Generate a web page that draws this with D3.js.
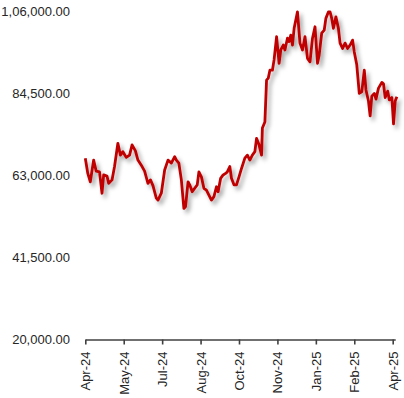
<!DOCTYPE html>
<html>
<head>
<meta charset="utf-8">
<script src="https://cdn.jsdelivr.net/npm/d3@7"></script>
<style>
  body { margin: 0; background: #fff; }
  svg { display: block; }
</style>
</head>
<body>
<div id="chart"></div>
<script>
// price series
const dates = [
  "2024-04-01","2024-04-04","2024-04-07","2024-04-11","2024-04-14","2024-04-18","2024-04-21","2024-04-23",
  "2024-04-27","2024-04-29","2024-05-03","2024-05-06","2024-05-10","2024-05-13","2024-05-16","2024-05-20",
  "2024-05-24","2024-05-27","2024-05-31","2024-06-03","2024-06-08","2024-06-11","2024-06-15","2024-06-18",
  "2024-06-21","2024-06-25","2024-06-27","2024-07-01","2024-07-05","2024-07-09","2024-07-13","2024-07-17",
  "2024-07-19","2024-07-22","2024-07-25","2024-07-28","2024-07-30","2024-08-02","2024-08-04","2024-08-07",
  "2024-08-10","2024-08-13","2024-08-15","2024-08-18","2024-08-21","2024-08-24","2024-08-27","2024-08-30",
  "2024-09-02","2024-09-05","2024-09-07","2024-09-10","2024-09-13","2024-09-16","2024-09-18","2024-09-21",
  "2024-09-23","2024-09-26","2024-09-29","2024-10-02","2024-10-05","2024-10-09","2024-10-12","2024-10-15",
  "2024-10-18","2024-10-21","2024-10-23","2024-10-26","2024-10-29","2024-10-30","2024-11-02","2024-11-04",
  "2024-11-06","2024-11-08","2024-11-11","2024-11-13","2024-11-16","2024-11-19","2024-11-21","2024-11-24",
  "2024-11-26","2024-11-29","2024-12-01","2024-12-03","2024-12-05","2024-12-07","2024-12-11","2024-12-14",
  "2024-12-17","2024-12-20","2024-12-23","2024-12-26","2024-12-29","2025-01-01","2025-01-04","2025-01-06",
  "2025-01-09","2025-01-12","2025-01-14","2025-01-17","2025-01-19","2025-01-21","2025-01-23","2025-01-26",
  "2025-01-29","2025-01-31","2025-02-03","2025-02-06","2025-02-09","2025-02-12","2025-02-15","2025-02-17",
  "2025-02-20","2025-02-23","2025-02-26","2025-03-01","2025-03-03","2025-03-06","2025-03-08","2025-03-10",
  "2025-03-13","2025-03-15","2025-03-18","2025-03-22","2025-03-24","2025-03-26","2025-03-29","2025-03-31",
  "2025-04-03","2025-04-05","2025-04-07","2025-04-09"
];
const prices = [
  67600,63600,61400,67100,64200,64000,58400,63200,
  62900,61000,61900,65400,71500,68400,69300,67800,
  68400,71100,69500,67100,65400,64200,61000,61900,
  60400,57100,56600,58400,64500,67100,66300,68000,
  67100,66300,61900,54400,54900,61400,60600,58800,
  59700,60600,64000,62700,59700,59200,57900,56600,
  57500,60100,58800,62300,63200,63600,64000,65400,
  62300,60600,60600,62700,64900,67600,68400,67100,
  68400,69300,72800,71100,68400,75500,77100,88100,
  88600,90700,90700,93400,99500,92500,96000,97300,
  96000,99100,98200,99900,97300,101700,106000,97800,
  96000,99500,93800,92900,99100,102100,92500,94700,
  100400,101200,104300,106000,106000,104300,101700,104700,
  101700,97800,96400,97800,96400,97300,98600,95500,
  92100,84600,85000,90700,85500,82600,78700,83900,
  84600,83100,86000,87500,87100,83500,85200,82900,
  83500,76600,82600,83700
];
const yTicks = [20000, 41500, 63000, 84500, 106000];
const xTicks = ["2024-04-01","2024-05-17","2024-07-02","2024-08-17","2024-10-02",
                "2024-11-17","2025-01-02","2025-02-17","2025-04-04"];

const W = 404, H = 398;
const parse = d3.utcParse("%Y-%m-%d");
const data = dates.map((d, i) => ({ date: parse(d), value: prices[i] }));

// indian digit grouping, two decimals
const fmtIN = v => {
  const s = v.toFixed(2).split(".");
  let int = s[0];
  let last3 = int.slice(-3), rest = int.slice(0, -3);
  if (rest) last3 = "," + last3;
  rest = rest.replace(/\B(?=(\d{2})+(?!\d))/g, ",");
  return rest + last3 + "." + s[1];
};

const x = d3.scaleUtc()
  .domain([parse("2024-04-01"), parse("2025-04-07")])
  .range([85.3, 395.2]);
const y = d3.scaleLinear()
  .domain([20000, 106000])
  .range([339.5, 11.9]);

const svg = d3.select("#chart").append("svg")
  .attr("width", W).attr("height", H);

const defs = svg.append("defs");
const f = defs.append("filter").attr("id", "shadow")
  .attr("x", "-10%").attr("y", "-10%").attr("width", "130%").attr("height", "130%");
f.append("feDropShadow")
  .attr("dx", 3).attr("dy", 3.5).attr("stdDeviation", 2)
  .attr("flood-color", "#000").attr("flood-opacity", 0.35);

// y labels (no axis line in the original)
svg.append("g").selectAll("text")
  .data(yTicks).enter().append("text")
  .attr("x", 70)
  .attr("y", d => y(d))
  .attr("dy", "0.35em")
  .attr("text-anchor", "end")
  .attr("font-family", "'Liberation Sans', Arial, sans-serif")
  .attr("font-size", 13)
  .attr("fill", "#262626")
  .text(fmtIN);

// x axis
const xAxis = svg.append("g")
  .attr("transform", `translate(0,${y(20000)})`)
  .call(d3.axisBottom(x)
    .tickValues(xTicks.map(parse))
    .tickSize(5)
    .tickSizeOuter(0)
    .tickFormat(d3.utcFormat("%b-%y")));
xAxis.select(".domain").attr("stroke", "#404040").attr("stroke-width", 1.6);
xAxis.selectAll(".tick line").attr("stroke", "#404040").attr("stroke-width", 1.6);
xAxis.selectAll(".tick text")
  .attr("font-family", "'Liberation Sans', Arial, sans-serif")
  .attr("font-size", 13)
  .attr("fill", "#262626")
  .attr("text-anchor", "end")
  .attr("transform", "rotate(-90)")
  .attr("x", -12)
  .attr("y", 0)
  .attr("dy", "0.35em");

const line = d3.line()
  .x(d => x(d.date))
  .y(d => y(d.value));

svg.append("path")
  .datum(data)
  .attr("fill", "none")
  .attr("stroke", "#C00000")
  .attr("stroke-width", 2.8)
  .attr("stroke-linejoin", "round")
  .attr("filter", "url(#shadow)")
  .attr("d", line);
</script>
</body>
</html>
